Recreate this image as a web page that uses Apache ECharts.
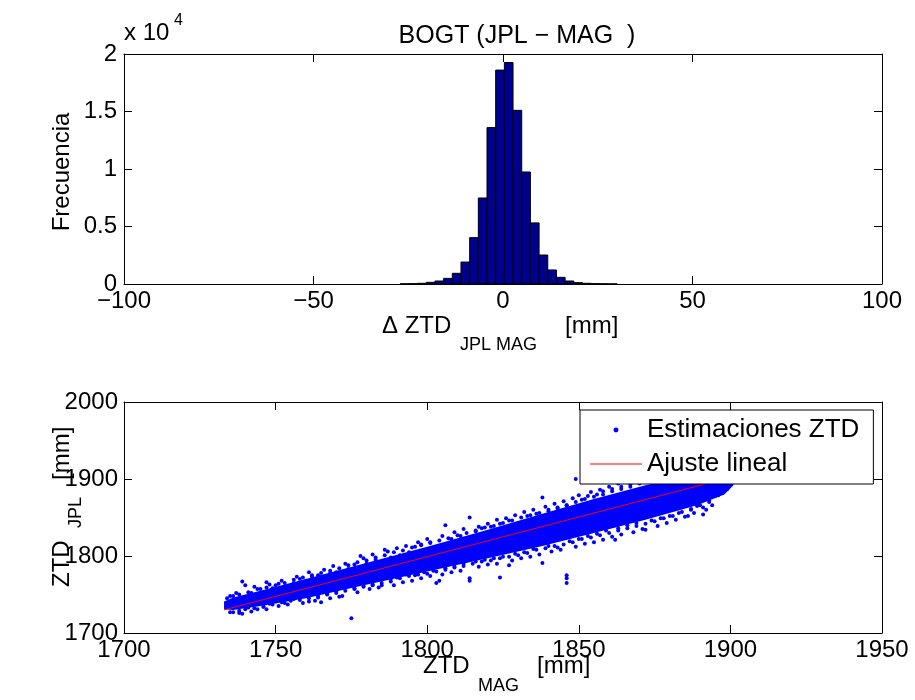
<!DOCTYPE html>
<html>
<head>
<meta charset="utf-8">
<script src="https://cdn.jsdelivr.net/npm/echarts@6/dist/echarts.min.js"></script>
<style>html,body{margin:0;padding:0;background:#fff;}#c{width:915px;height:700px;}</style>
</head>
<body>
<div id="c"></div>
<script>
// ---- Histogram data ----
var binLeft = [-27.12, -24.83, -22.54, -20.25, -17.96, -15.67, -13.38, -11.09, -8.80, -6.51, -4.22, -1.93, 0.36, 2.65, 4.94, 7.23, 9.52, 11.81, 14.10, 16.39, 18.68, 20.97, 23.26, 25.55, 27.84];
var binCount = [15, 30, 60, 145, 260, 490, 930, 1910, 4030, 7480, 13600, 18600, 19260, 15100, 9740, 5310, 2520, 1220, 580, 260, 120, 60, 30, 15, 8];
var binWidth = 2.29;
var histXTicks = [-100, -50, 0, 50, 100];
var histYTicks = [0, 5000, 10000, 15000, 20000];

// ---- Scatter: dense core of the cloud (boundaries) ----
var coreX     = [1733, 1736, 1745, 1760, 1778, 1800, 1820, 1838, 1855, 1872, 1889, 1898, 1901];
var coreUpper = [1741, 1746, 1755, 1770, 1789, 1812, 1834, 1855, 1874, 1892, 1906, 1906, 1900];
var coreLower = [1731, 1730, 1735, 1745, 1761, 1780, 1797, 1813, 1830, 1847, 1866, 1880, 1892];

// ---- Scatter: edge points near the upper side of the cloud ----
var upEdgeX = [1735,1738,1741,1744,1747,1750,1753,1756,1759,1762,1765,1768,1771,1774,1777,1780,1783,1786,1789,1792,1795,1798,1801,1804,1807,1810,1813,1816,1819,1822,1825,1828,1831,1834,1837,1840,1843,1846,1849,1852,1855,1858,1861,1864,1867,1870];
var upEdgeY = [1748,1750,1753,1757,1759,1762,1765,1769,1772,1775,1778,1781,1784,1788,1792,1794,1798,1801,1805,1807,1811,1815,1817,1820,1823,1827,1830,1833,1837,1839,1843,1846,1850,1853,1856,1860,1863,1866,1870,1874,1877,1880,1884,1887,1890,1894];
var upFuzzX = [1737,1743,1748,1752,1757,1761,1766,1769,1773,1779,1782,1787,1790,1793,1797,1800,1805,1809,1812,1817,1820,1823,1826,1829,1832,1835,1839,1842,1845,1848,1850,1854,1857,1860,1863,1866];
var upFuzzY = [1752,1760,1763,1768,1773,1779,1782,1787,1790,1797,1802,1806,1810,1813,1818,1822,1826,1831,1835,1838,1842,1847,1849,1853,1857,1860,1864,1868,1871,1875,1879,1883,1886,1890,1894,1897];
// ---- Scatter: edge points near the lower side of the cloud ----
var lowEdgeX = [1736,1740,1743,1746,1749,1752,1755,1758,1761,1764,1767,1770,1773,1776,1779,1782,1785,1788,1791,1794,1797,1800,1803,1806,1809,1812,1815,1818,1821,1824,1827,1830,1833,1836,1839,1842,1845,1848,1851,1854,1857,1860,1863,1866,1869,1872,1875,1878,1881,1884,1887,1890,1893,1896,1899];
var lowEdgeY = [1727,1731,1732,1734,1737,1740,1742,1743,1745,1746,1750,1752,1755,1758,1761,1762,1765,1767,1771,1774,1776,1777,1780,1782,1785,1787,1790,1793,1794,1797,1799,1801,1804,1808,1810,1813,1815,1818,1822,1824,1827,1830,1833,1836,1839,1842,1845,1849,1852,1857,1861,1866,1872,1879,1887];
var lowFuzzX = [1738,1742,1747,1751,1754,1759,1763,1768,1771,1777,1781,1784,1789,1792,1795,1798,1801,1805,1808,1811,1817,1820,1823,1828,1831,1834,1837,1841,1844,1849,1852,1855,1858,1861,1864,1868,1871,1876,1879,1882,1886,1888,1892,1894];
var lowFuzzY = [1726,1728,1731,1735,1737,1739,1742,1745,1747,1753,1757,1759,1762,1766,1768,1771,1774,1776,1779,1781,1786,1789,1790,1794,1797,1799,1802,1806,1808,1812,1816,1818,1821,1825,1828,1831,1835,1839,1843,1847,1852,1856,1860,1866];

// ---- Scatter: scattered points and outliers ----
var estX = [1734,1736,1739,1740,1742,1745,1747,1749,1751,1753,1756,1758,1760,1762,1764,1766,1768,1770,1772,1774,1776,1778,1780,1783,1786,1788,1791,1794,1796,1798,1801,1803,1806,1808,1811,1814,1816,1818,1821,1824,1827,1830,1833,1836,1838,1840,1843,1846,1849,1851,1853,1856,1858,1861,1864,1867,1870,
            1735,1738,1739,1741,1744,1746,1748,1750,1753,1756,1758,1761,1764,1765,1767,1770,1772,1775,1776,1779,1782,1785,1788,1790,1793,1796,1799,1802,1803,1804,1806,1809,1812,1814,1814,1816,1819,1822,1824,1825,1827,1829,1832,1835,1838,1840,1843,1846,1846,1846,1847,1850,1853,1856,1859,1862,1863,1866,1869,1872,1874,1877,1880,1883,1885,1887,1889,1891,1891,1893,1895,1895,1897,1899,1901];
var estY = [1745,1748,1767,1762,1752,1757,1766,1758,1764,1760,1765,1770,1768,1773,1775,1772,1778,1779,1777,1783,1789,1800,1790,1795,1808,1798,1801,1805,1812,1814,1818,1812,1840,1822,1826,1850,1832,1836,1838,1842,1846,1843,1852,1855,1876,1858,1862,1866,1900,1873,1878,1880,1884,1887,1890,1893,1895,
            1727,1729,1725,1733,1731,1734,1738,1741,1739,1744,1746,1741,1748,1740,1751,1754,1748,1719,1757,1760,1763,1762,1770,1772,1776,1775,1779,1781,1765,1768,1784,1786,1790,1768,1771,1793,1795,1797,1772,1799,1788,1803,1805,1809,1791,1813,1811,1775,1771,1765,1819,1822,1826,1829,1833,1821,1836,1840,1843,1834,1846,1849,1852,1856,1851,1860,1865,1863,1854,1870,1878,1886,1883,1894,1897];

// ---- Linear fit ----
var fitX = [1733, 1896];
var fitY = [1730, 1898];

var scXTicks = [1700, 1750, 1800, 1850, 1900, 1950];
var scYTicks = [1700, 1800, 1900, 2000];

var FONT = '"Liberation Sans", Arial, Helvetica, sans-serif';
var FS = 24;

var histData = binLeft.map(function (l, i) { return [l, l + binWidth, binCount[i]]; });
function pairs(xs, ys) { return xs.map(function (x, i) { return [x, ys[i]]; }); }
var estData = pairs(upEdgeX, upEdgeY).concat(pairs(upFuzzX, upFuzzY), pairs(lowEdgeX, lowEdgeY), pairs(lowFuzzX, lowFuzzY), pairs(estX, estY));
var fitData = pairs(fitX, fitY);

function minusFmt(v) { return String(v).replace('-', '\u2212'); }
function plainFmt(v) { return String(v); }

function baseAxis(extra) {
  var a = {
    axisLine: { show: true, onZero: false, lineStyle: { color: '#000', width: 1 } },
    axisTick: { show: true, inside: true, length: 8, lineStyle: { color: '#000', width: 1 } },
    splitLine: { show: false },
    axisLabel: { color: '#000', fontSize: FS, fontFamily: FONT }
  };
  for (var k in extra) a[k] = extra[k];
  return a;
}

var chart = echarts.init(document.getElementById('c'), null, { renderer: 'canvas' });

var option = {
  backgroundColor: '#fff',
  animation: false,
  title: {
    text: 'BOGT (JPL \u2212 MAG  )',
    left: 512, top: 19, textAlign: 'center',
    textStyle: { fontSize: 25, fontWeight: 'normal', color: '#000', fontFamily: FONT }
  },
  grid: [
    { left: 124, top: 54, width: 758, height: 230 },
    { left: 124, top: 402, width: 758, height: 231 }
  ],
  xAxis: [
    baseAxis({ gridIndex: 0, type: 'value', min: histXTicks[0], max: histXTicks[histXTicks.length - 1], interval: 50, position: 'bottom',
      axisLabel: { color: '#000', fontSize: FS, fontFamily: FONT, margin: 5, formatter: minusFmt } }),
    baseAxis({ gridIndex: 0, type: 'value', min: -100, max: 100, interval: 50, position: 'top', axisLabel: { show: false } }),
    baseAxis({ gridIndex: 1, type: 'value', min: scXTicks[0], max: scXTicks[scXTicks.length - 1], interval: 50, position: 'bottom',
      axisLabel: { color: '#000', fontSize: FS, fontFamily: FONT, margin: 5, formatter: plainFmt } }),
    baseAxis({ gridIndex: 1, type: 'value', min: 1700, max: 1950, interval: 50, position: 'top', axisLabel: { show: false } })
  ],
  yAxis: [
    baseAxis({ gridIndex: 0, type: 'value', min: histYTicks[0], max: histYTicks[histYTicks.length - 1], interval: 5000, position: 'left',
      axisLabel: { color: '#000', fontSize: FS, fontFamily: FONT, margin: 7, formatter: function (v) { return String(v / 10000); } } }),
    baseAxis({ gridIndex: 0, type: 'value', min: 0, max: 20000, interval: 5000, position: 'right', axisLabel: { show: false } }),
    baseAxis({ gridIndex: 1, type: 'value', min: scYTicks[0], max: scYTicks[scYTicks.length - 1], interval: 100, position: 'left',
      axisLabel: { color: '#000', fontSize: FS, fontFamily: FONT, margin: 6, formatter: plainFmt } }),
    baseAxis({ gridIndex: 1, type: 'value', min: 1700, max: 2000, interval: 100, position: 'right', axisLabel: { show: false } })
  ],
  legend: {
    orient: 'vertical',
    left: 580, top: 410,
    itemWidth: 52, itemHeight: 14, itemGap: 8,
    padding: [7, 14, 7, 10],
    backgroundColor: '#fff',
    borderColor: '#000', borderWidth: 1,
    textStyle: { fontSize: 26, color: '#000', fontFamily: FONT },
    data: [
      { name: 'Estimaciones ZTD', icon: 'path://M0,0L0.01,0M52,14L52.01,14M23.5,7a2.5,2.5 0 1,0 5,0a2.5,2.5 0 1,0 -5,0Z' },
      { name: 'Ajuste lineal', icon: 'path://M0,0L52,0L52,1.2L0,1.2Z' }
    ]
  },
  graphic: [
    { type: 'text', left: 124, top: 21, style: { text: 'x 10', fontSize: 24, fontFamily: FONT, fill: '#000' } },
    { type: 'text', left: 174, top: 13, style: { text: '4', fontSize: 16, fontFamily: FONT, fill: '#000' } },
    // top x-axis label
    { type: 'text', x: 382, y: 326, style: { text: '\u0394 ZTD', fontSize: FS, fontFamily: FONT, fill: '#000', verticalAlign: 'middle' } },
    { type: 'text', x: 460, y: 345, style: { text: 'JPL MAG', fontSize: 18, fontFamily: FONT, fill: '#000', verticalAlign: 'middle' } },
    { type: 'text', x: 565, y: 326, style: { text: '[mm]', fontSize: FS, fontFamily: FONT, fill: '#000', verticalAlign: 'middle' } },
    // top y-axis label
    { type: 'text', x: 62, y: 172, rotation: Math.PI / 2, style: { text: 'Frecuencia', fontSize: FS, fontFamily: FONT, fill: '#000', align: 'center', verticalAlign: 'middle' } },
    // bottom x-axis label
    { type: 'text', x: 423, y: 666, style: { text: 'ZTD', fontSize: FS, fontFamily: FONT, fill: '#000', verticalAlign: 'middle' } },
    { type: 'text', x: 478, y: 686, style: { text: 'MAG', fontSize: 18, fontFamily: FONT, fill: '#000', verticalAlign: 'middle' } },
    { type: 'text', x: 537, y: 666, style: { text: '[mm]', fontSize: FS, fontFamily: FONT, fill: '#000', verticalAlign: 'middle' } },
    // bottom y-axis label
    { type: 'text', x: 62, y: 587, rotation: Math.PI / 2, style: { text: 'ZTD', fontSize: FS, fontFamily: FONT, fill: '#000', align: 'left', verticalAlign: 'middle' } },
    { type: 'text', x: 76, y: 528, rotation: Math.PI / 2, style: { text: 'JPL', fontSize: 18, fontFamily: FONT, fill: '#000', align: 'left', verticalAlign: 'middle' } },
    { type: 'text', x: 62, y: 480, rotation: Math.PI / 2, style: { text: '[mm]', fontSize: FS, fontFamily: FONT, fill: '#000', align: 'left', verticalAlign: 'middle' } }
  ],
  series: [
    {
      type: 'custom', xAxisIndex: 0, yAxisIndex: 0, z: 3,
      data: histData,
      encode: { x: [0, 1], y: 2 },
      renderItem: function (params, api) {
        var p0 = api.coord([api.value(0), api.value(2)]);
        var p1 = api.coord([api.value(1), 0]);
        return {
          type: 'rect',
          shape: { x: p0[0], y: p0[1], width: p1[0] - p0[0], height: p1[1] - p0[1] },
          style: { fill: '#00008F', stroke: '#000', lineWidth: 1 }
        };
      }
    },
    {
      type: 'custom', xAxisIndex: 2, yAxisIndex: 2, z: 2,
      data: [[coreX[0], coreLower[0]]],
      renderItem: function (params, api) {
        var pts = [];
        for (var i = 0; i < coreX.length; i++) pts.push(api.coord([coreX[i], coreUpper[i]]));
        for (var j = coreX.length - 1; j >= 0; j--) pts.push(api.coord([coreX[j], coreLower[j]]));
        return { type: 'polygon', shape: { points: pts }, style: { fill: '#0000FF' } };
      }
    },
    {
      name: 'Estimaciones ZTD', type: 'scatter', xAxisIndex: 2, yAxisIndex: 2, z: 2,
      symbol: 'circle', symbolSize: 4,
      itemStyle: { color: '#0000FF', opacity: 1 },
      data: estData
    },
    {
      name: 'Ajuste lineal', type: 'line', xAxisIndex: 2, yAxisIndex: 2, z: 3,
      symbol: 'none', showSymbol: false,
      lineStyle: { color: '#FF0000', width: 1 },
      itemStyle: { color: '#FF0000' },
      data: fitData
    }
  ]
};
chart.setOption(option);
</script>
</body>
</html>
